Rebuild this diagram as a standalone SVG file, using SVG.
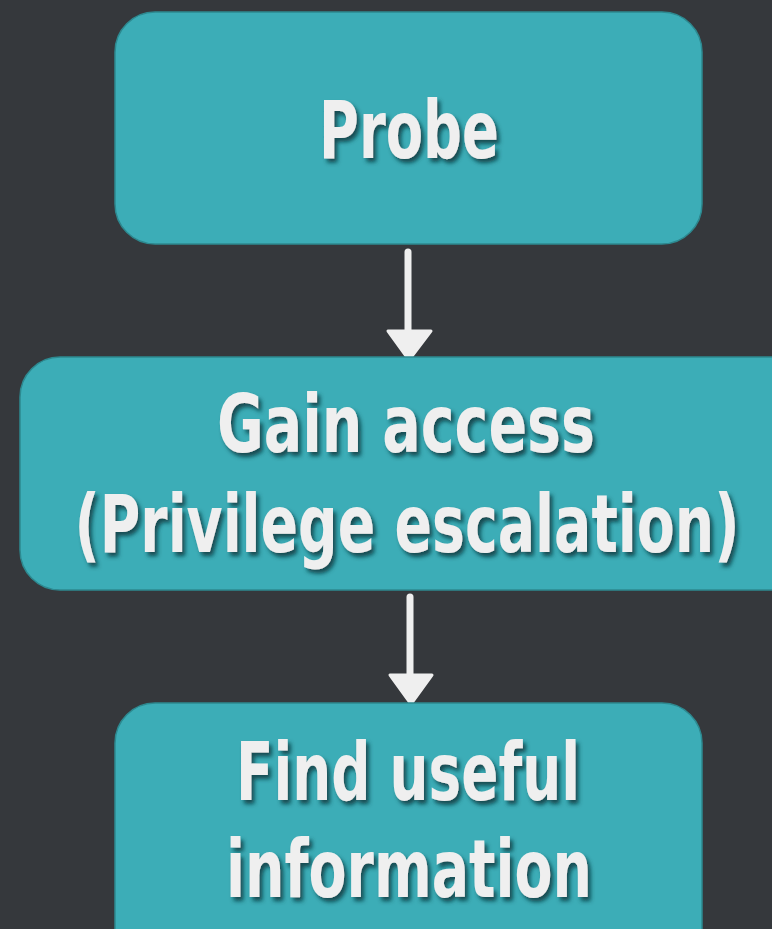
<svg xmlns="http://www.w3.org/2000/svg" width="772" height="929" viewBox="0 0 772 929">
<defs>
<style>
.box{fill:#3cadb7;stroke:#2d8990;stroke-width:1.5}
.lbl{font-family:"Liberation Sans Narrow","DejaVu Sans Condensed","Liberation Sans",sans-serif;font-weight:bold;font-size:80px;fill:#efefef;text-anchor:middle;filter:url(#sh)}
.conn{stroke:#efefef;stroke-width:7;stroke-linecap:round;fill:none}
.head{fill:#efefef;stroke:#efefef;stroke-width:3;stroke-linejoin:round}
</style>
<filter id="sh" x="-10%" y="-20%" width="130%" height="150%">
<feGaussianBlur in="SourceAlpha" stdDeviation="2"/>
<feOffset dx="3" dy="4" result="b"/>
<feFlood flood-color="#0d3a40" flood-opacity="0.85"/>
<feComposite in2="b" operator="in"/>
<feMerge><feMergeNode/><feMergeNode in="SourceGraphic"/></feMerge>
</filter>
</defs>
<rect width="772" height="929" fill="#35383c"/>
<g id="connectors">
<line class="conn" x1="408" y1="252" x2="408" y2="332"/>
<polygon class="head" points="388,331 431,331 409,360"/>
<line class="conn" x1="410" y1="597" x2="410" y2="676"/>
<polygon class="head" points="390,675 432,675 411,704"/>
</g>
<g id="probe">
<rect class="box" x="115" y="12" width="587" height="232" rx="40"/>
<text class="lbl" x="409" y="158" textLength="180" lengthAdjust="spacingAndGlyphs">Probe</text>
</g>
<g id="gain-access">
<rect class="box" x="20" y="357" width="790" height="233" rx="40"/>
<text class="lbl" x="406" y="452" textLength="378" lengthAdjust="spacingAndGlyphs">Gain access</text>
<text class="lbl" x="407" y="552" textLength="665" lengthAdjust="spacingAndGlyphs">(Privilege escalation)</text>
</g>
<g id="find-info">
<rect class="box" x="115" y="703" width="587" height="270" rx="40"/>
<text class="lbl" x="408" y="800" textLength="344" lengthAdjust="spacingAndGlyphs">Find useful</text>
<text class="lbl" x="409" y="897" textLength="366" lengthAdjust="spacingAndGlyphs">information</text>
</g>
</svg>
